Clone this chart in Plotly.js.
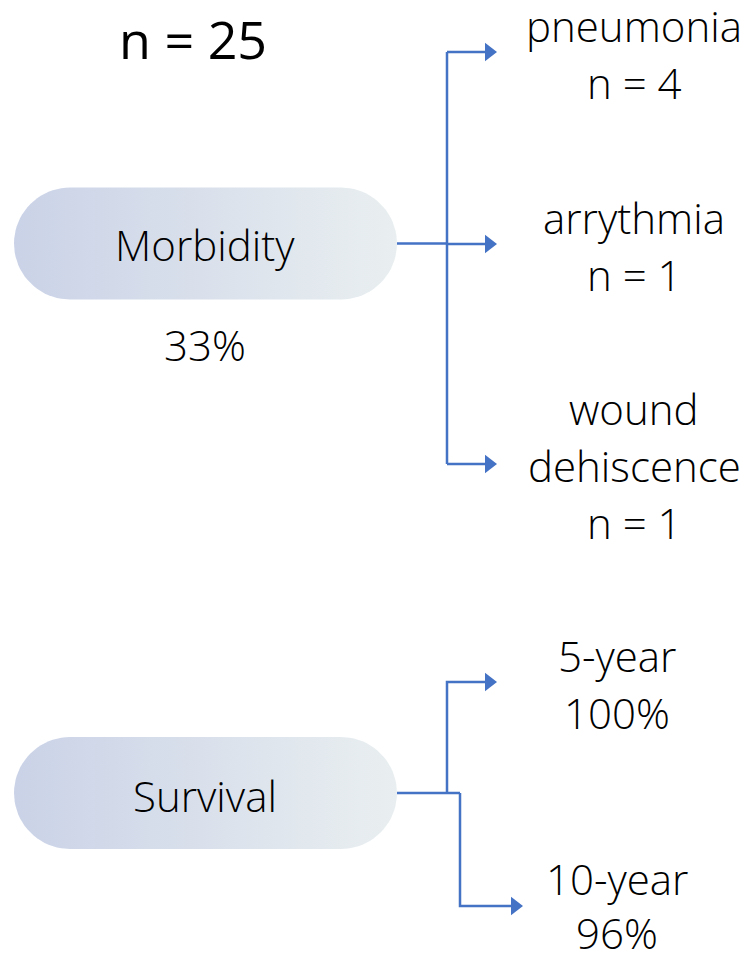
<!DOCTYPE html>
<html>
<head>
<meta charset="utf-8">
<script src="https://cdn.plot.ly/plotly-3.0.1.min.js"></script>
<style>html,body{margin:0;padding:0;background:#fff;}#chart{width:751px;height:954px;}</style>
</head>
<body>
<div id="chart"></div>
<script>
// ---- data ----
const totalN = 25;
const groups = ["Morbidity", "Survival"];
const morbidityRate = "33%";
const morbidityItems = ["pneumonia", "arrythmia", "wound dehiscence"];
const morbidityCounts = [4, 1, 1];
const survivalLabels = ["5-year", "10-year"];
const survivalValues = [100, 96];

// ---- layout geometry (pixel space) ----
const W = 751, H = 954;
const BLUE = "#4472C4";
const FONT = "Open Sans, Noto Sans, sans-serif";
const pill = {x0: 14, x1: 397, r: 56};
const pillY = [243.5, 793];

function pillPath(cy) {
  const xs = [], ys = [];
  const cxL = pill.x0 + pill.r, cxR = pill.x1 - pill.r;
  for (let i = 0; i <= 40; i++) {
    const a = -Math.PI / 2 + Math.PI * i / 40;
    xs.push(cxR + pill.r * Math.cos(a)); ys.push(cy + pill.r * Math.sin(a));
  }
  for (let i = 0; i <= 40; i++) {
    const a = Math.PI / 2 + Math.PI * i / 40;
    xs.push(cxL + pill.r * Math.cos(a)); ys.push(cy + pill.r * Math.sin(a));
  }
  xs.push(xs[0]); ys.push(ys[0]);
  return {xs, ys};
}

const traces = [];
pillY.forEach(cy => {
  const p = pillPath(cy);
  traces.push({
    x: p.xs, y: p.ys, mode: "lines", fill: "toself",
    line: {width: 0, color: "rgba(0,0,0,0)"},
    fillgradient: {type: "horizontal", colorscale: [[0, "#cad2e7"], [1, "#e9eff0"]]},
    hoverinfo: "skip", showlegend: false
  });
});

function line(xs, ys) {
  traces.push({x: xs, y: ys, mode: "lines", line: {color: BLUE, width: 2.5},
    hoverinfo: "skip", showlegend: false});
}
const arrowTips = [];

// Morbidity branch
const mY = [52, 244, 464];
const bx = 447;
line([pill.x1, bx], [pillY[0], pillY[0]]);
line([bx, bx], [mY[0], mY[2]]);
mY.forEach(y => { line([bx, 486], [y, y]); arrowTips.push([489, y]); });

// Survival branch
const sY = [682, 906];
line([pill.x1, 460], [793, 793]);
line([bx, bx, 486], [793, sY[0], sY[0]]); arrowTips.push([489, sY[0]]);
line([460, 460, 512], [793, sY[1], sY[1]]); arrowTips.push([515, sY[1]]);

traces.push({
  x: arrowTips.map(a => a[0]), y: arrowTips.map(a => a[1]), mode: "markers",
  marker: {symbol: "triangle-right", size: 16, color: BLUE, line: {width: 0}},
  hoverinfo: "skip", showlegend: false
});

// ---- text ----
const ann = [];
function txt(t, x, y, size, weight) {
  ann.push({text: t, x: x, y: y, xref: "x", yref: "y", showarrow: false,
    xanchor: "center", yanchor: "middle", borderpad: 0,
    font: {family: FONT, size: size || 42, color: "#000", weight: weight || 300}});
}
txt("n = " + totalN, 193, 38, 52, 400);
txt(groups[0], 205, 244);
txt(morbidityRate, 205, 344);
txt(groups[1], 205, 795);

const lineGap = 57;
const mStartY = [25, 217, 408];
morbidityItems.forEach((item, i) => {
  const lines = item.split(" ").concat(["n = " + morbidityCounts[i]]);
  lines.forEach((l, k) => txt(l, 634, mStartY[i] + k * lineGap));
});
const sStartY = [655, 878];
survivalLabels.forEach((lab, i) => {
  txt(lab, 617, sStartY[i]);
  txt(survivalValues[i] + "%", 617, sStartY[i] + lineGap - (i === 1 ? 3 : 0));
});

const layout = {
  width: W, height: H,
  margin: {l: 0, r: 0, t: 0, b: 0},
  paper_bgcolor: "#fff", plot_bgcolor: "#fff",
  xaxis: {range: [0, W], visible: false, fixedrange: true},
  yaxis: {range: [H, 0], visible: false, fixedrange: true},
  annotations: ann,
  showlegend: false
};
Plotly.newPlot("chart", traces, layout, {staticPlot: true, displayModeBar: false});
</script>
</body>
</html>
